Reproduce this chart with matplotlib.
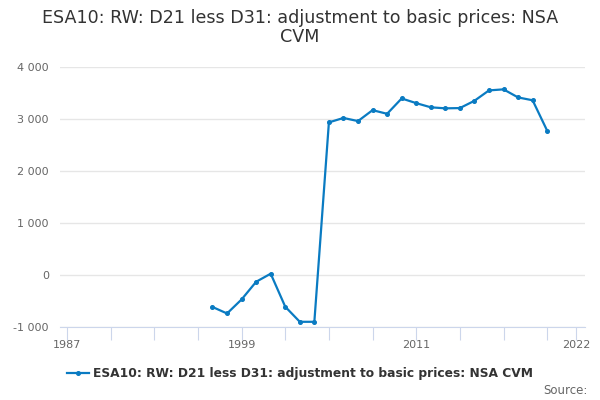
import matplotlib
matplotlib.use("Agg")
import matplotlib.pyplot as plt
from matplotlib.ticker import FuncFormatter, MultipleLocator

# values
years = list(range(1997, 2021))
values = [-615, -740, -470, -130, 25, -610, -900, -900,
          2935, 3020, 2960, 3170, 3100, 3395, 3305, 3225,
          3205, 3210, 3350, 3550, 3570, 3415, 3360, 2775]
label_years = [1987, 1999, 2011, 2022]
series_name = "ESA10: RW: D21 less D31: adjustment to basic prices: NSA CVM"

line_col = "#0a7bc2"

fig = plt.figure(figsize=(6, 4), dpi=100)
ax = fig.add_axes([0.1, 0.1825, 0.875, 0.65])

ax.plot(years, values, color=line_col, lw=1.6, marker="o", ms=2.6, label=series_name)

ax.set_xlim(1986.52, 2022.6)
ax.set_ylim(-1000, 4000)
ax.yaxis.set_major_locator(MultipleLocator(1000))
ax.yaxis.set_major_formatter(FuncFormatter(lambda v, p: f"{int(v):,}".replace(",", " ")))
ax.grid(axis="y", color="#e6e6e6", lw=1)
ax.set_axisbelow(True)

# x ticks every 3 years, labels only on a few
xt = list(range(1987, 2021, 3)) + [2022]
ax.set_xticks(xt)
ax.set_xticklabels([str(t) if t in label_years else "" for t in xt])
ax.tick_params(axis="x", length=9, color="#ccd6eb", labelcolor="#666666", labelsize=8, pad=0)
ax.tick_params(axis="y", length=0, labelcolor="#666666", labelsize=8, pad=8)

for s in ["top", "right", "left"]:
    ax.spines[s].set_visible(False)
ax.spines["bottom"].set_color("#ccd6eb")

fig.text(0.5, 0.978, "ESA10: RW: D21 less D31: adjustment to basic prices: NSA\nCVM",
         ha="center", va="top", fontsize=12.6, color="#333333", linespacing=1.05)

leg = fig.legend(loc="center", bbox_to_anchor=(0.5, 0.065), frameon=False,
                 prop={"weight": "bold", "size": 8.8}, handlelength=1.8, handletextpad=0.4)
for t in leg.get_texts():
    t.set_color("#333333")

fig.text(0.98, 0.025, "Source:", ha="right", va="center", fontsize=8.5, color="#666666")

fig.savefig("out.png", dpi=100)
